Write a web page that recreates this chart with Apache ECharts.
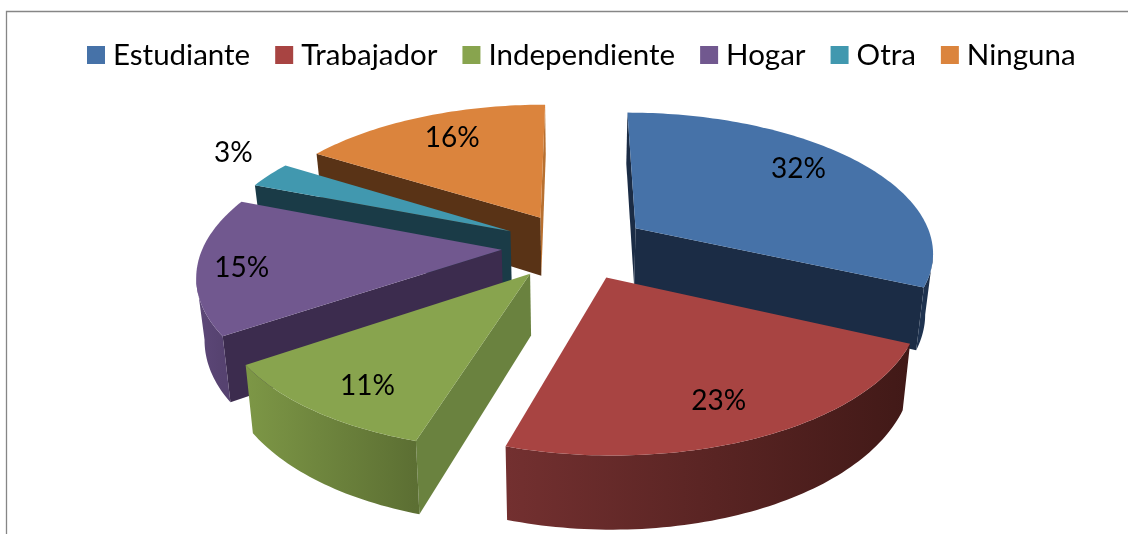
<!DOCTYPE html>
<html><head><meta charset="utf-8">
<style>html,body{margin:0;padding:0;background:#fff}#c{width:1128px;height:534px}</style>
<script src="https://cdn.jsdelivr.net/npm/echarts@6/dist/echarts.min.js"></script>
</head><body><div id="c"></div>
<script>
const categories = ['Estudiante','Trabajador','Independiente','Hogar','Otra','Ninguna'];
const percentages = [31.8,22.9,10.8,15.4,3.0,16.1];
const topColors = ['#4672A8','#A84442','#88A44E','#71588F','#4198AF','#DB843D'];
const cutColors = ['#1B2C45','#441A18','#6A823F','#3C2C4E','#1A3B47','#593316'];
const endCutColors = ['#1B2C45','#441A18','#6A823F','#3C2C4E','#1A3B47','#B87030'];
const wallLeft  = ['#1F3350','#733030','#7D9746','#5D4878','#2C6A7C','#B87030'];
const wallRight = ['#1B2C45','#411917','#5C6F33','#564270','#1A3B47','#8A5424'];
const labelRadius = [0.785,0.789,0.81,0.855,1.245,0.773];
const labelSpanFraction = [0.45,0.515,0.445,0.47,0.95,0.535];
const paintOrder = [3,5,6,4,2,1];

// projection of the tilted pie plane
const P = {cx:575, cy:246, A:306, B:139, k:0.157, explode:0.24, depth:60, radiusU:0.975, converge:0.022};
function project(u,v){const w=1+P.k*v;return [P.cx+P.A*u/w, P.cy-P.B*v/w, P.depth/w];}
const total = percentages.reduce((a,b)=>a+b,0);
const toAngle = p => p/total*2*Math.PI;
let running = 0;
const spans = percentages.map(p=>{const s=running;running+=p;return [toAngle(s),toAngle(running)];});

function renderSlice(i, api){
  const [a0,a1]=spans[i], mid=(a0+a1)/2;
  const ox=P.explode*Math.sin(mid), oy=P.explode*Math.cos(mid);
  const at=(ang,r)=>project(ox+P.radiusU*r*Math.sin(ang),oy+r*Math.cos(ang));
  const apex=at(0,0);
  const n=Math.max(8,Math.round((a1-a0)/0.02));
  const arc=[];
  for(let j=0;j<=n;j++) arc.push(at(a0+(a1-a0)*j/n,1));
  const xy=p=>[p[0],p[1]];
  const low=p=>[p[0]-(p[0]-P.cx)*P.converge,p[1]+p[2]];
  const children=[];
  const cut=(a,b,color)=>{ if(b[0]<a[0]) children.push({type:'polygon',shape:{points:[xy(a),xy(b),low(b),low(a)]},style:{fill:color}}); };
  cut(apex,arc[0],cutColors[i]);
  cut(arc[n],apex,endCutColors[i]);
  // front-facing runs of the outer wall
  let run=[];
  const flush=()=>{
    if(run.length>1){
      const xs=run.map(p=>p[0]);
      const x0=Math.min(...xs),x1=Math.max(...xs);
      children.push({type:'polygon',shape:{points:run.map(xy).concat(run.slice().reverse().map(low))},
        style:{fill:new echarts.graphic.LinearGradient(x0,0,x1,0,[{offset:0,color:wallLeft[i]},{offset:1,color:wallRight[i]}],true)}});
    }
    run=[];
  };
  for(let j=0;j<n;j++){
    if(arc[j+1][0]<arc[j][0]){ if(!run.length) run.push(arc[j]); run.push(arc[j+1]); }
    else flush();
  }
  flush();
  children.push({type:'polygon',shape:{points:[xy(apex)].concat(arc.map(xy))},style:{fill:topColors[i]}});
  const la=a0+(a1-a0)*labelSpanFraction[i];
  const lp=at(la,labelRadius[i]);
  children.push({type:'text',z2:10,style:{x:lp[0],y:lp[1]+1,text:Math.round(api.value(0))+'%',fill:'#000',
    font:'28px Lato, "Open Sans", sans-serif',textAlign:'center',textVerticalAlign:'middle'}});
  return {type:'group',children};
}

const chart = echarts.init(document.getElementById('c'),null,{renderer:'canvas'});
chart.setOption({
  animation:false,
  backgroundColor:'#fff',
  legend:{
    data:categories, top:35, left:82, itemWidth:18, itemHeight:18, itemGap:25,
    icon:'rect', selectedMode:false,
    textStyle:{fontFamily:'Lato, "Open Sans", sans-serif',fontSize:29.5,color:'#000',padding:[0,0,0,3]}
  },
  graphic:[{type:'polyline',silent:true,shape:{points:[[6.5,534],[6.5,11.5],[1128,11.5]]},style:{stroke:'#868686',lineWidth:1.3,fill:null}}],
  series:categories.map((name,i)=>({
    type:'custom', name, coordinateSystem:'none', z:paintOrder[i]+2,
    color:topColors[i], itemStyle:{color:topColors[i]},
    data:[[percentages[i]]],
    renderItem:(params,api)=>renderSlice(i,api)
  }))
});
</script></body></html>
